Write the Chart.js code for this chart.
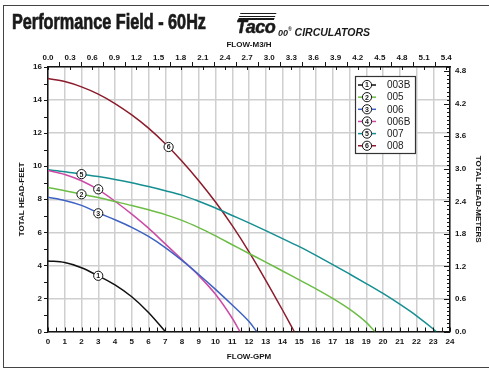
<!DOCTYPE html>
<html><head><meta charset="utf-8">
<script src="https://cdn.jsdelivr.net/npm/chart.js@4.4.1/dist/chart.umd.min.js"></script>
<style>
html,body{margin:0;padding:0;background:#fff;}
#wrap{position:relative;width:489px;height:370px;overflow:hidden;background:#fff;}
#frame{position:absolute;left:3px;top:5px;width:520px;height:363px;border:1px solid #444;box-sizing:border-box;}
#chart{position:absolute;left:0;top:0;}
#title{position:absolute;left:12px;top:9px;font-family:"Liberation Sans",Arial,sans-serif;font-weight:bold;font-size:22px;line-height:26px;color:#1a1a1a;transform-origin:0 0;-webkit-text-stroke:0.7px #1a1a1a;white-space:nowrap;}
#logo{position:absolute;left:236px;top:11px;width:45px;height:26px;}
#stripes{position:absolute;left:3px;top:2px;width:36px;height:8px;background:repeating-linear-gradient(to bottom,#1a1a1a 0,#1a1a1a 1.4px,transparent 1.4px,transparent 2.7px);transform:skewX(-20deg);}
#taco{position:absolute;left:0;top:6px;font-family:"Liberation Sans",Arial,sans-serif;font-weight:bold;font-style:italic;font-size:18px;line-height:20px;color:#1a1a1a;letter-spacing:-0.5px;-webkit-text-stroke:0.5px #1a1a1a;}
#circ{position:absolute;left:278px;top:23px;font-family:"Liberation Sans",Arial,sans-serif;font-weight:bold;font-style:italic;font-size:10.5px;line-height:12px;color:#1a1a1a;white-space:nowrap;}
#circ .z{font-size:9px;}
#circ sup{font-size:5px;vertical-align:5px;}
</style></head>
<body>
<div id="wrap">
  <canvas id="chart" width="489" height="370"></canvas>
  <div id="frame"></div>
  <div id="title">Performance Field - 60Hz</div>
  <div id="logo"><div id="stripes"></div><div id="taco">Taco</div></div>
  <div id="circ"><span class="z">00</span><sup>®</sup> CIRCULATORS</div>
</div>
<script>
// squeeze the heading to the condensed width of the original
(function () {
  const t = document.getElementById('title');
  const w = t.getBoundingClientRect().width;
  t.style.transform = 'scaleX(' + (194 / w) + ')';
})();

// ---- data ----
const seriesNames = ['003B', '005', '006', '006B', '007', '008'];
const seriesColors = ['#111111', '#6cbd45', '#3d62c4', '#cc4aa6', '#158f92', '#8c1c2c'];

const flow003B = [0, 1, 2, 3, 4, 5, 6, 7];
const head003B = [4.27, 4.17, 3.86, 3.37, 2.82, 2.1, 1.15, 0];

const flow005 = [0, 1, 2, 3, 4, 5, 6, 7, 8, 9, 10, 11, 12, 13, 14, 15, 16, 17, 18, 19, 19.52];
const head005 = [8.71, 8.52, 8.3, 8.1, 7.86, 7.62, 7.36, 7.07, 6.72, 6.28, 5.78, 5.25, 4.72, 4.2, 3.66, 3.12, 2.58, 2.0, 1.35, 0.55, 0];

const flow006 = [0, 1, 2, 3, 4, 5, 6, 7, 8, 9, 10, 11, 12, 12.46];
const head006 = [8.12, 7.93, 7.63, 7.18, 6.76, 6.3, 5.75, 5.08, 4.3, 3.45, 2.55, 1.6, 0.6, 0];

const flow006B = [0, 1, 2, 3, 4, 5, 6, 7, 8, 9, 10, 11, 11.46];
const head006B = [9.74, 9.5, 9.12, 8.58, 7.88, 7.1, 6.25, 5.3, 4.35, 3.38, 2.25, 0.8, 0];

const flow007 = [0, 1, 2, 3, 4, 5, 6, 7, 8, 9, 10, 11, 12, 13, 14, 15, 16, 17, 18, 19, 20, 21, 22, 23, 23.16];
const head007 = [9.78, 9.67, 9.52, 9.37, 9.2, 9.0, 8.77, 8.52, 8.25, 7.88, 7.47, 7.02, 6.57, 6.1, 5.62, 5.13, 4.6, 4.05, 3.48, 2.9, 2.3, 1.65, 0.95, 0.15, 0];

const flow008 = [0, 1, 2, 3, 4, 5, 6, 7, 8, 9, 10, 11, 12, 13, 14, 14.7];
const head008 = [15.3, 15.12, 14.8, 14.36, 13.79, 13.1, 12.3, 11.36, 10.3, 9.12, 7.83, 6.4, 4.82, 3.1, 1.3, 0];

// numbered curve markers (flow GPM, head ft)
const markerFlow = [3, 2, 3, 3, 2, 7.2];
const markerHead = [3.37, 8.3, 7.15, 8.6, 9.52, 11.16];

// axis ticks
const gpmTickStep = 1;
const feetTickStep = 2;
const m3hTicks = [0, 0.3, 0.6, 0.9, 1.2, 1.5, 1.8, 2.1, 2.4, 2.7, 3.0, 3.3, 3.6, 3.9, 4.2, 4.5, 4.8, 5.1, 5.4];
const m3hTickLabels = ['0.0', '0.3', '0.6', '0.9', '1.2', '1.5', '1.8', '2.1', '2.4', '2.7', '3.0', '3.3', '3.6', '3.9', '4.2', '4.5', '4.8', '5.1', '5.4'];
const meterTicks = [0, 0.6, 1.2, 1.8, 2.4, 3.0, 3.6, 4.2, 4.8];
const meterTickLabels = ['0.0', '0.6', '1.2', '1.8', '2.4', '3.0', '3.6', '4.2', '4.8'];

const GPM_PER_M3H = 4.40287;
const FT_PER_M = 3.28084;
const GPM_MAX = 24, FT_MAX = 16;

const flows = [flow003B, flow005, flow006, flow006B, flow007, flow008];
const heads = [head003B, head005, head006, head006B, head007, head008];

// ---- chart ----
const tickFont = {family: '"Liberation Sans", Arial', weight: 'bold', size: 8};
const titleFont = {family: '"Liberation Sans", Arial', weight: 'bold', size: 8};
const ink = '#151515';

const datasets = seriesNames.map((name, i) => ({
  label: name,
  data: flows[i].map((f, k) => ({x: f, y: heads[i][k]})),
  borderColor: seriesColors[i],
  backgroundColor: seriesColors[i],
  borderWidth: 1.5,
  pointRadius: 0,
  showLine: true,
  cubicInterpolationMode: 'monotone',
  xAxisID: 'x',
  yAxisID: 'y'
}));

function crisp(v) { return Math.round(v) + 0.5; }

const extras = {
  id: 'extras',
  afterDatasetsDraw(chart) {
    const ctx = chart.ctx;
    const xs = chart.scales.x, ys = chart.scales.y, x2 = chart.scales.x2, y2 = chart.scales.y2;
    const a = chart.chartArea;
    ctx.save();
    ctx.strokeStyle = ink;
    ctx.lineWidth = 1;
    ctx.beginPath();
    // bottom: every 0.5 GPM, inward
    for (let v = 0; v <= GPM_MAX + 1e-9; v += 0.5) {
      const px = crisp(xs.getPixelForValue(v));
      ctx.moveTo(px, a.bottom); ctx.lineTo(px, a.bottom - 4);
    }
    // left: every 1 ft, outward
    for (let v = 0; v <= FT_MAX + 1e-9; v += 1) {
      const py = crisp(ys.getPixelForValue(v));
      ctx.moveTo(a.left - 4, py); ctx.lineTo(a.left, py);
    }
    // top: every 0.15 m3/h
    for (let i = 0; i * 0.15 <= x2.max + 1e-9; i++) {
      const px = crisp(x2.getPixelForValue(i * 0.15));
      if (i % 2) { ctx.moveTo(px, a.top); ctx.lineTo(px, a.top - 5); }
      else { ctx.moveTo(px, a.top); ctx.lineTo(px, a.top + 3); }
    }
    // right: every 0.075 m, inward
    for (let i = 0; i * 0.075 <= y2.max + 1e-9; i++) {
      const py = crisp(y2.getPixelForValue(i * 0.075));
      const len = (i % 8 === 0) ? 6 : 3;
      ctx.moveTo(a.right, py); ctx.lineTo(a.right - len, py);
    }
    ctx.stroke();

    function badge(px, py, n) {
      ctx.beginPath();
      ctx.arc(px, py, 4.6, 0, Math.PI * 2);
      ctx.fillStyle = '#fff'; ctx.fill();
      ctx.lineWidth = 1; ctx.strokeStyle = ink; ctx.stroke();
      ctx.fillStyle = ink;
      ctx.font = 'bold 7px "Liberation Sans", Arial';
      ctx.textAlign = 'center'; ctx.textBaseline = 'middle';
      ctx.fillText(String(n), px, py + 0.5);
    }
    // curve markers
    markerFlow.forEach((f, i) => badge(xs.getPixelForValue(f), ys.getPixelForValue(markerHead[i]), i + 1));

    // legend box
    const lx = a.right - 95, ly = a.top + 9, lw = 60, lh = 77;
    ctx.fillStyle = '#fff';
    ctx.fillRect(lx, ly, lw, lh);
    ctx.lineWidth = 1.2; ctx.strokeStyle = '#333';
    ctx.strokeRect(crisp(lx), crisp(ly), lw, lh);
    seriesNames.forEach((name, i) => {
      const ry = ly + 9 + i * 12.15;
      ctx.beginPath();
      ctx.moveTo(lx + 3, ry); ctx.lineTo(lx + 21, ry);
      ctx.strokeStyle = seriesColors[i]; ctx.lineWidth = 1.5; ctx.stroke();
      badge(lx + 12, ry, i + 1);
      ctx.fillStyle = '#222';
      ctx.font = '10px "Liberation Sans", Arial';
      ctx.textAlign = 'left'; ctx.textBaseline = 'middle';
      ctx.fillText(name, lx + 32, ry + 0.5);
    });
    ctx.restore();
  }
};

new Chart(document.getElementById('chart'), {
  type: 'scatter',
  data: {datasets},
  plugins: [extras],
  options: {
    responsive: false,
    animation: false,
    events: [],
    layout: {padding: 0},
    plugins: {legend: {display: false}, tooltip: {enabled: false}, title: {display: false}},
    scales: {
      x: {
        type: 'linear', position: 'bottom', min: 0, max: GPM_MAX,
        ticks: {stepSize: gpmTickStep, font: tickFont, color: ink, padding: 5, maxRotation: 0, autoSkip: false},
        grid: {color: '#cfcfcf', lineWidth: 1.5, drawTicks: false},
        border: {display: true, color: ink, width: 1.5},
        title: {display: true, text: 'FLOW-GPM', font: titleFont, color: ink, padding: {top: 0, bottom: 8}},
        afterFit: s => { s.height = 38.5; }
      },
      y: {
        type: 'linear', position: 'left', min: 0, max: FT_MAX,
        ticks: {stepSize: feetTickStep, font: tickFont, color: ink, padding: 6},
        grid: {color: '#cfcfcf', lineWidth: 1.5, drawTicks: false},
        border: {display: true, color: ink, width: 1.5},
        title: {display: true, text: 'TOTAL HEAD-FEET', font: titleFont, color: ink, padding: {top: 17, bottom: 0}},
        afterFit: s => { s.width = 48; }
      },
      x2: {
        type: 'linear', position: 'top', min: 0, max: GPM_MAX / GPM_PER_M3H,
        afterBuildTicks: s => { s.ticks = m3hTicks.map(v => ({value: v})); },
        ticks: {font: tickFont, color: ink, padding: 4, maxRotation: 0, autoSkip: false,
                callback: (v, i) => m3hTickLabels[i]},
        grid: {display: false, drawTicks: false},
        border: {display: true, color: ink, width: 1.5},
        title: {display: true, text: 'FLOW-M3/H', font: titleFont, color: ink, padding: {top: 40, bottom: 0}},
        afterFit: s => { s.height = 67; }
      },
      y2: {
        type: 'linear', position: 'right', min: 0, max: FT_MAX / FT_PER_M,
        afterBuildTicks: s => { s.ticks = meterTicks.map(v => ({value: v})); },
        ticks: {font: tickFont, color: ink, padding: 5, autoSkip: false,
                callback: (v, i) => meterTickLabels[i]},
        grid: {display: false, drawTicks: false},
        border: {display: true, color: ink, width: 1.5},
        title: {display: true, text: 'TOTAL HEAD-METERS', font: titleFont, color: ink, padding: {top: 6, bottom: 0}},
        afterFit: s => { s.width = 39; }
      }
    }
  }
});
</script>
</body></html>
